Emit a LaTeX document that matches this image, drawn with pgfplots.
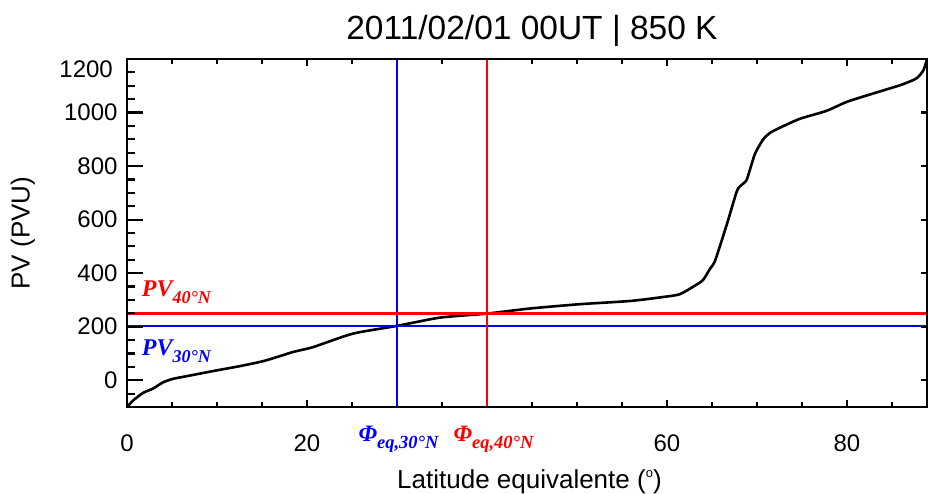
\documentclass[border=0pt]{standalone}
\usepackage{pgfplots}
\pgfplotsset{compat=1.18}
\usepackage{fontspec}
\setmainfont{Liberation Sans}
\newfontfamily\tmsfont{Liberation Serif}
\definecolor{pvred}{RGB}{255,0,0}
\definecolor{pvblue}{RGB}{0,0,255}
\begin{document}
\begin{tikzpicture}
\path[use as bounding box] (-127pt,-86pt) rectangle (801pt,407pt);
\pgfplotsset{base/.style={at={(0pt,0pt)}, anchor=south west, scale only axis,
  width=800pt, height=348pt, xmin=0, xmax=88.9, ymin=-100, ymax=1200,
  axis line style={line width=2.3pt}, tick style={line width=2.2pt, black},
  tick align=inside}}
\begin{axis}[base, xtick={0,20,40,60,80}, xticklabels={0,20,,60,80},
  minor xtick={0,5,...,85}, ytick=\empty, major tick length=7pt, minor tick length=5pt,
  xticklabel style={font=\fontsize{24}{24}\selectfont, yshift=-24pt}]
\addplot[black, line width=2.6pt, smooth, tension=0.4] coordinates {
(0,-100) (0.7,-75) (1.8,-47) (2.9,-31) (4.0,-8) (5.1,5) (6.6,15) (10,37)
(12.6,53) (15.1,71) (16.8,88) (18.5,106) (20.7,124) (25.1,174) (30,203)
(34.8,234) (40,249) (44.8,268) (50.3,284) (55.9,296) (59.6,311) (61.4,321)
(62.9,349) (64.0,374) (64.8,417) (65.3,442) (66.1,523) (66.8,598) (67.4,666)
(67.9,716) (68.8,745) (69.2,784) (69.8,847) (70.7,900) (71.5,925) (72.6,944)
(74.8,977) (77.7,1006) (80,1040) (82.9,1071) (85.9,1102) (87.7,1127)
(88.5,1158) (88.9,1200)};
\addplot[pvblue, line width=2.3pt] coordinates {(0,203) (88.9,203)};
\addplot[pvblue, line width=2.3pt] coordinates {(30,-100) (30,1200)};
\addplot[pvred, line width=2.3pt] coordinates {(0,249) (88.9,249)};
\addplot[pvred, line width=2.3pt] coordinates {(40,-100) (40,1200)};
\end{axis}
\begin{axis}[base, xtick=\empty, ytick={0,200,...,1200},
  yticklabels={0,200,400,600,800,1000,}, minor ytick={-100,-50,...,1200},
  ytick pos=left, major tick length=16pt, minor tick length=8pt,
  yticklabel style={font=\fontsize{24}{24}\selectfont, xshift=-6pt}]
\end{axis}
\begin{axis}[base, xtick=\empty, ytick={0,200,...,1200}, yticklabels={},
  ytick pos=right, major tick length=6pt]
\end{axis}
\node[anchor=east, inner sep=0pt, font=\fontsize{24}{24}\selectfont] at (-14pt,338pt) {1200};
\node[anchor=base, inner sep=0pt, font=\fontsize{33.5}{33.5}\selectfont] at (405pt,367pt) {2011/02/01 00UT | 850 K};
\node[rotate=90, inner sep=0pt, font=\fontsize{26}{26}\selectfont] at (-104pt,174pt) {PV (PVU)};
\node[anchor=base west, inner sep=0pt, font=\fontsize{26}{26}\selectfont] at (270pt,-81pt) {Latitude equivalente (\raisebox{11pt}{\fontsize{13}{13}\selectfont o})};
\node[anchor=base west, inner sep=0pt, text=pvred, font=\tmsfont\bfseries\itshape\fontsize{24}{24}\selectfont] at (14.7pt,111pt) {PV\raisebox{-7pt}{\fontsize{18}{18}\selectfont 40°N}};
\node[anchor=base west, inner sep=0pt, text=pvblue, font=\tmsfont\bfseries\itshape\fontsize{24}{24}\selectfont] at (14.7pt,52pt) {PV\raisebox{-7.7pt}{\fontsize{18}{18}\selectfont 30°N}};
\node[anchor=base west, inner sep=0pt, text=pvblue, font=\tmsfont\bfseries\itshape\fontsize{23.5}{23.5}\selectfont] at (231.3pt,-34.7pt) {Φ\raisebox{-6.3pt}{\fontsize{18.5}{18.5}\selectfont eq,30°N}};
\node[anchor=base west, inner sep=0pt, text=pvred, font=\tmsfont\bfseries\itshape\fontsize{23.5}{23.5}\selectfont] at (326.3pt,-34.7pt) {Φ\raisebox{-6.3pt}{\fontsize{18.5}{18.5}\selectfont eq,40°N}};
\end{tikzpicture}
\end{document}
